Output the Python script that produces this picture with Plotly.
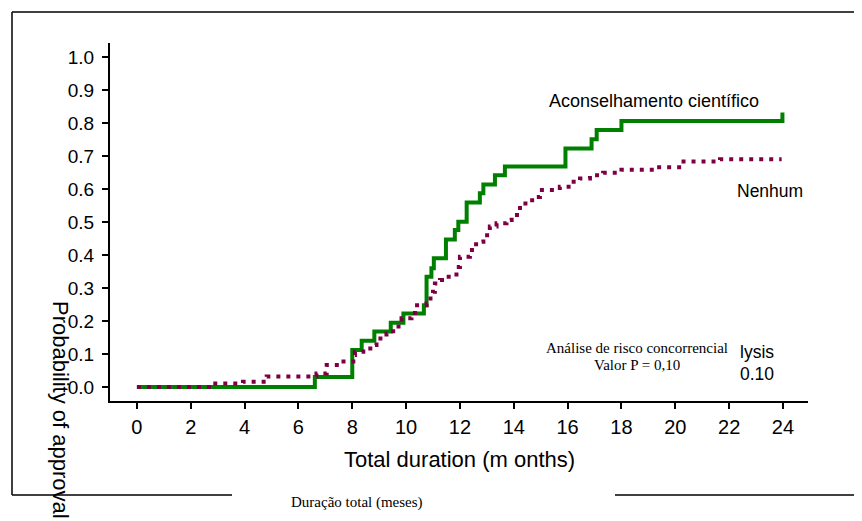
import plotly.graph_objects as go

# ---- data ----
advice_t = [0, 6.61, 8.0, 8.35, 8.82, 9.43, 9.9, 10.66, 10.76, 10.94, 11.03, 11.48, 11.81,
            11.94, 12.25, 12.74, 12.87, 13.3, 13.67, 15.92, 16.89, 17.08, 18.0, 23.98]
advice_p = [0, 0.03, 0.112, 0.14, 0.168, 0.195, 0.223, 0.248, 0.334, 0.36, 0.39, 0.447, 0.476,
            0.501, 0.559, 0.587, 0.614, 0.642, 0.668, 0.723, 0.751, 0.779, 0.806, 0.832]

none_t = [0, 2.83, 3.94, 4.82, 6.67, 7.05, 7.54, 8.04, 8.1, 8.41, 8.78, 8.9, 9.27, 9.52, 9.83,
          10.2, 10.33, 10.76, 10.82, 11.0, 11.07, 11.26, 11.44, 11.87, 12.0, 12.37, 12.6, 12.87,
          13.11, 13.36, 13.73, 13.92, 14.23, 14.6, 14.78, 14.97, 15.71, 16.15, 16.46, 16.83,
          17.32, 18.0, 19.3, 20.23, 21.66, 23.95]
none_p = [0, 0.011, 0.016, 0.032, 0.041, 0.067, 0.077, 0.097, 0.107, 0.117, 0.127, 0.147, 0.162,
          0.183, 0.208, 0.213, 0.248, 0.253, 0.268, 0.289, 0.314, 0.324, 0.334, 0.364, 0.395,
          0.415, 0.44, 0.46, 0.486, 0.496, 0.506, 0.521, 0.556, 0.566, 0.576, 0.597, 0.607,
          0.622, 0.632, 0.642, 0.649, 0.658, 0.666, 0.683, 0.69, 0.69]

x_ticks = list(range(0, 25, 2))
y_ticks = [round(i * 0.1, 1) for i in range(11)]

GREEN = "#008000"
MAROON = "#7d0044"

W, H = 862, 521
OFF = 8  # page body margin
L, T = 110 - OFF, 43 - OFF
PW, PH = 698, 358
R = W - L - PW
B = H - T - PH


def px(x):
    return (x - OFF - L) / PW


def py(y):
    return (T + PH - (y - OFF)) / PH


fig = go.Figure()
fig.add_trace(go.Scatter(x=advice_t, y=advice_p, mode="lines", line_shape="hv",
                         line=dict(color=GREEN, width=4), name="Aconselhamento científico",
                         showlegend=False))
fig.add_trace(go.Scatter(x=none_t, y=none_p, mode="lines", line_shape="hv",
                         line=dict(color=MAROON, width=4, dash="4px,6px"), name="Nenhum",
                         showlegend=False))

sans = "Liberation Sans, Arial, sans-serif"
serif = "Liberation Serif, Times New Roman, serif"

ann = [
    dict(text="Aconselhamento científico", x=px(654), y=py(101), size=18, fam=sans),
    dict(text="Nenhum", x=px(770), y=py(191), size=17.5, fam=sans),
    dict(text="Análise de risco concorrencial", x=px(637), y=py(348), size=15, fam=serif),
    dict(text="Valor P = 0,10", x=px(637), y=py(365), size=15, fam=serif),
    dict(text="lysis", x=px(757), y=py(352), size=17.5, fam=sans),
    dict(text="0.10", x=px(757), y=py(374), size=17.5, fam=sans),
    dict(text="Total duration (m onths)", x=px(459), y=py(459), size=22, fam=sans),
    dict(text="Duração total (meses)", x=px(357), y=py(502), size=15, fam=serif),
]
for a in ann:
    fig.add_annotation(text=a["text"], x=a["x"], y=a["y"], xref="paper", yref="paper",
                       showarrow=False, xanchor="center", yanchor="middle",
                       font=dict(size=a["size"], family=a["fam"], color="black"))

fig.add_annotation(text="Probability of approval", x=px(61), y=py(410), xref="paper",
                   yref="paper", showarrow=False, textangle=90, xanchor="center",
                   yanchor="middle", font=dict(size=22, family=sans, color="black"))

line = dict(color="black", width=1.5)
for x0, y0, x1, y1 in [(12, 12, 870, 12), (12, 12, 12, 495), (12, 495, 232, 495),
                       (615, 495, 870, 495)]:
    fig.add_shape(type="line", xref="paper", yref="paper", x0=px(x0), y0=py(y0),
                  x1=px(x1), y1=py(y1), line=line)

fig.update_layout(
    width=W, height=H, margin=dict(l=L, r=R, t=T, b=B),
    paper_bgcolor="white", plot_bgcolor="white",
    font=dict(family=sans, color="black"),
    xaxis=dict(range=[-1.0, 24.93], tickvals=x_ticks, ticktext=[str(v) for v in x_ticks],
               showgrid=False, zeroline=False, showline=True, linecolor="black", linewidth=2,
               ticks="outside", ticklen=6, tickwidth=1.5, tickcolor="black",
               tickfont=dict(size=20, family=sans), ticklabelstandoff=1),
    yaxis=dict(range=[-0.0424, 1.0424], tickvals=y_ticks, tickformat=".1f",
               showgrid=False, zeroline=False, showline=True, linecolor="black", linewidth=2,
               ticks="outside", ticklen=6, tickwidth=1.5, tickcolor="black",
               tickfont=dict(size=19, family=sans), ticklabelstandoff=4),
)

fig.write_html("out.html")
